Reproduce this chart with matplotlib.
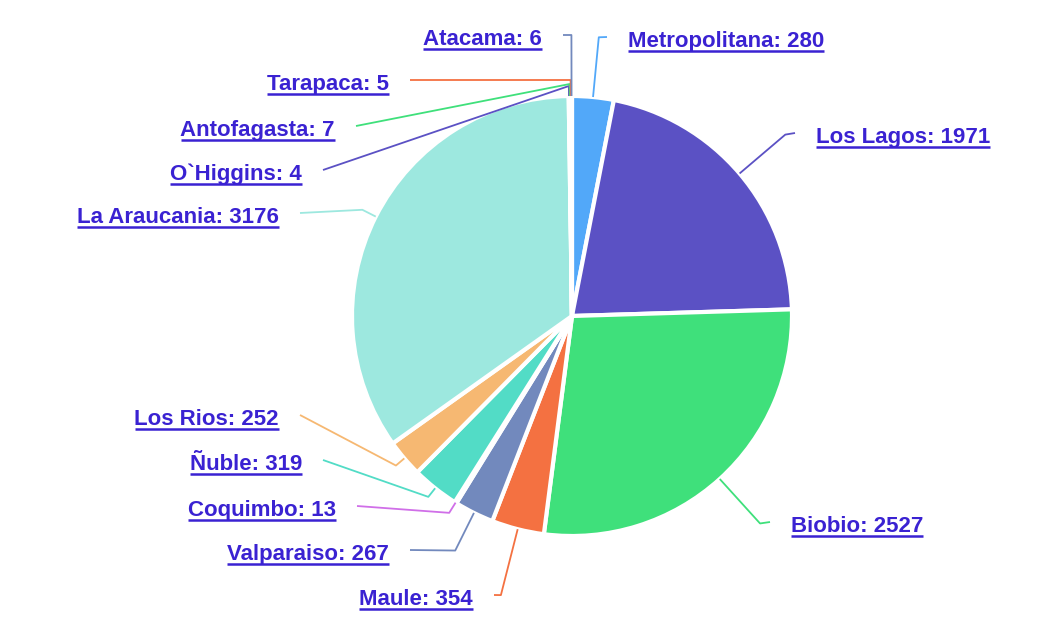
import numpy as np
import matplotlib.pyplot as plt

regions = ['Metropolitana', 'Los Lagos', 'Biobio', 'Maule', 'Valparaiso', 'Coquimbo',
           'Ñuble', 'Los Rios', 'La Araucania', 'O`Higgins', 'Antofagasta', 'Tarapaca', 'Atacama']
counts = [280, 1971, 2527, 354, 267, 13, 319, 252, 3176, 4, 7, 5, 6]
colors = ['#52a8f9', '#5b51c4', '#3fe07b', '#f47141', '#7289bd', '#d06fe8',
          '#52dcc6', '#f6b872', '#9de8df', '#5b51c4', '#3fe07b', '#f47141', '#7289bd']

# label layout in pixels: elbow radius, end of leader line (x, y)
elbow_r = [280, 280, 280, 288, 262, 232, 231, 231, 235, 230, 232, 236, 281]
line_end = [(607, 37), (795, 133), (770, 522), (494, 595), (410, 550), (357, 506),
            (323, 460), (300, 415), (300, 213), (323, 170), (356, 126), (410, 80), (563, 35)]

cx, cy, R = 572, 316, 220
txt_color = '#3a22d2'

fig = plt.figure(figsize=(10.6, 6.18), dpi=100)
ax = fig.add_axes([0, 0, 1, 1])

ax.pie(counts, colors=colors, center=(cx, cy), radius=R, startangle=-90, counterclock=True,
       wedgeprops=dict(edgecolor='white', linewidth=3, joinstyle='round'))
ax.set_xlim(0, 1060)
ax.set_ylim(618, 0)
ax.set_aspect('equal')
ax.axis('off')

total = sum(counts)
cum = np.cumsum([0] + counts)
texts = []
for i, name in enumerate(regions):
    phi = np.radians((cum[i] + counts[i] / 2) / total * 360)
    ex, ey = cx + R * np.sin(phi), cy - R * np.cos(phi)
    bx, by = cx + elbow_r[i] * np.sin(phi), cy - elbow_r[i] * np.cos(phi)
    lx, ly = line_end[i]
    ax.plot([ex, bx, lx], [ey, by, ly], color=colors[i], lw=1.3, solid_capstyle='butt')
    right = lx > bx
    tx = lx + 21 if right else lx - 21
    base = ly + 10
    t = ax.text(tx, base, f'{name}: {counts[i]}', ha='left' if right else 'right',
                va='baseline', fontsize=16, fontweight='bold', color=txt_color,
                family=['Liberation Sans', 'DejaVu Sans'])
    texts.append((t, base))

fig.canvas.draw()
renderer = fig.canvas.get_renderer()
inv = ax.transData.inverted()
for t, base in texts:
    bb = t.get_window_extent(renderer)
    (x0, _), (x1, _) = inv.transform([(bb.x0, bb.y0), (bb.x1, bb.y0)])
    ax.plot([x0, x1], [base + 4, base + 4], color=txt_color, lw=1.8, solid_capstyle='butt')

fig.savefig('out.png', dpi=100)
